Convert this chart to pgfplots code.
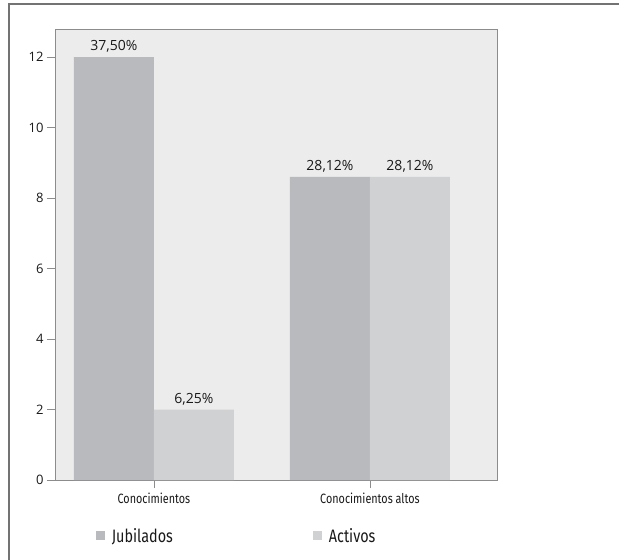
\documentclass[border=0pt]{standalone}
\usepackage{fontspec}
\setmainfont{Open Sans}
\newfontfamily\condensed[FakeStretch=0.8]{Fira Sans}
\usepackage{pgfplots}
\pgfplotsset{compat=1.18}
\definecolor{bgplot}{HTML}{ECECEC}
\definecolor{cjub}{HTML}{B9BABD}
\definecolor{cact}{HTML}{D0D1D3}
\definecolor{axgray}{HTML}{8C8C8C}
\pgfplotsset{/pgfplots/ybar legend/.style={legend image code/.code={\fill[##1,draw=none] (0pt,-4.5pt) rectangle (9pt,4.5pt);}}}
\begin{document}
\begin{tikzpicture}
\useasboundingbox (-55pt,-80pt) rectangle (564pt,480pt);
\begin{axis}[
  scale only axis,
  width=442pt, height=451pt,
  ybar=0pt, bar width=80pt,
  xmin=-0.458, xmax=1.588,
  ymin=0, ymax=12.8,
  ytick={0,2,4,6,8,10,12},
  xtick={0,1},
  xticklabels={Conocimientos, Conocimientos altos},
  xticklabel style={font=\condensed\fontsize{13.5}{15}\selectfont, text=black!90, yshift=-1pt},
  yticklabel style={font=\fontsize{13}{15}\selectfont, text=black!90},
  /pgf/number format/assume math mode=true,
  tick align=outside,
  major tick length=8pt,
  every tick/.style={axgray, line width=0.8pt},
  ytick pos=left, xtick pos=bottom,
  axis line style={axgray, line width=0.8pt},
  axis background/.style={fill=bgplot},
  point meta=explicit symbolic,
  nodes near coords={\pgfplotspointmeta},
  nodes near coords style={font=\fontsize{14}{16}\selectfont, text=black!90, anchor=south, yshift=1pt},
  legend columns=2,
  legend style={draw=none, fill=none, at={(rel axis cs:0.085,-0.124)}, anchor=west,
    font=\condensed\fontsize{18}{20}\selectfont, text=black!90,
    /tikz/every even column/.append style={column sep=138pt},
    /tikz/every odd column/.append style={column sep=5pt}},
  legend cell align=left,
  clip=false,
]
\addplot[fill=cjub, draw=none] coordinates {(0,12) [37,50\%] (1,8.6) [28,12\%]};
\addplot[fill=cact, draw=none] coordinates {(0,2) [6,25\%] (1,8.6) [28,12\%]};
\legend{Jubilados, Activos}
\end{axis}
\draw[black!55, line width=1.2pt] (-46pt,-84pt) rectangle (568pt,476pt);
\end{tikzpicture}
\end{document}
